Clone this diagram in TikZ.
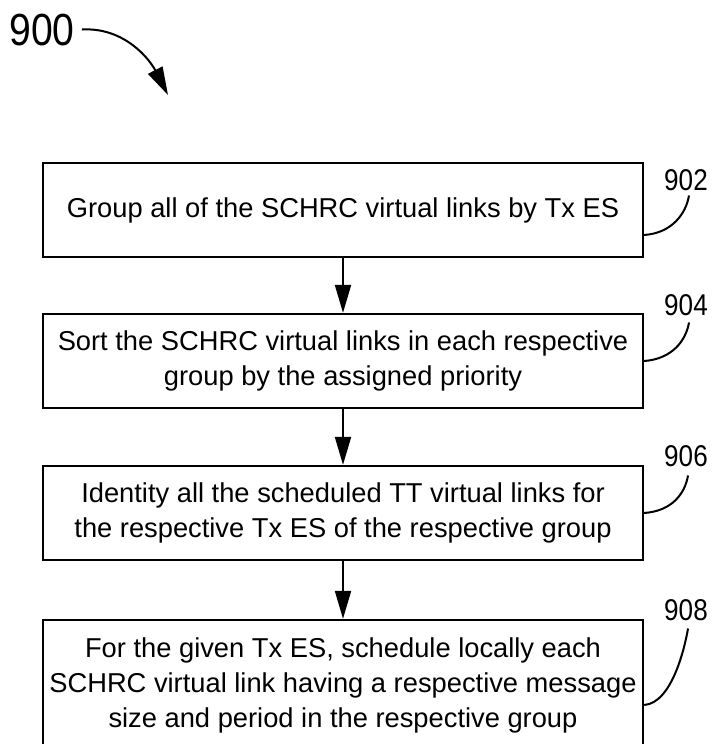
\documentclass[tikz,border=0pt]{standalone}
\usepackage{fontspec}
\setmainfont{Liberation Sans}
\newfontfamily\lblfont[FakeStretch=0.87]{Liberation Sans}
\usetikzlibrary{arrows.meta}
\begin{document}
\begin{tikzpicture}[x=1pt,y=-1pt,
  box/.style={draw, line width=2.3pt, minimum width=600pt, inner sep=0pt, align=center, font=\fontsize{27.3pt}{35pt}\selectfont},
  flow/.style={line width=2pt, -{Triangle[length=28pt,width=16pt]}},
  lead/.style={line width=2pt},
  refnum/.style={font=\lblfont\fontsize{30pt}{36pt}\selectfont, inner sep=0pt, anchor=base}]
\useasboundingbox (0,0) rectangle (713,744);
\clip (0,0) rectangle (713,744);
\fill[white] (0,0) rectangle (713,744);

% title reference and arrow
\node[font=\lblfont\fontsize{45pt}{50pt}\selectfont, inner sep=0pt, anchor=base] (n900) at (42,45) {900};
\coordinate (t900) at (168,95);
\draw[flow] ([xshift=7pt]n900.east) .. controls (125,27) and (150,60) .. (t900);

% boxes
\node[box, minimum height=94pt] (b902) at (343,210) {Group all of the SCHRC virtual links by Tx ES};
\node[box, minimum height=94pt] (b904) at (343,361) {Sort the SCHRC virtual links in each respective\\group by the assigned priority};
\node[box, minimum height=94pt] (b906) at (343,513) {Identity all the scheduled TT virtual links for\\the respective Tx ES of the respective group};
\node[box, minimum height=130pt] (b908) at (343,685) {For the given Tx ES, schedule locally each\\SCHRC virtual link having a respective message\\size and period in the respective group};

% flow arrows
\draw[flow] (b902.south) -- (b904.north);
\draw[flow] (b904.south) -- (b906.north);
\draw[flow] (b906.south) -- (b908.north);

% reference numerals
\node[refnum] (r902) at (686,190) {902};
\node[refnum] (r904) at (686,315) {904};
\node[refnum] (r906) at (686,466) {906};
\node[refnum] (r908) at (686,620) {908};

% leaders
\draw[lead] ([yshift=-25pt]b902.east) .. controls +(28,-2) and +(-3,18) .. ([xshift=3pt,yshift=-5pt]r902.south);
\draw[lead] (b904.east) .. controls +(28,-2) and +(-3,18) .. ([xshift=3pt,yshift=-7pt]r904.south);
\draw[lead] (b906.east) .. controls +(28,-2) and +(-3,18) .. ([xshift=2pt,yshift=-9pt]r906.south);
\draw[lead] ([yshift=-20pt]b908.east) .. controls +(28,-2) and +(-3,18) .. ([xshift=2pt,yshift=-8pt]r908.south);
\end{tikzpicture}
\end{document}
